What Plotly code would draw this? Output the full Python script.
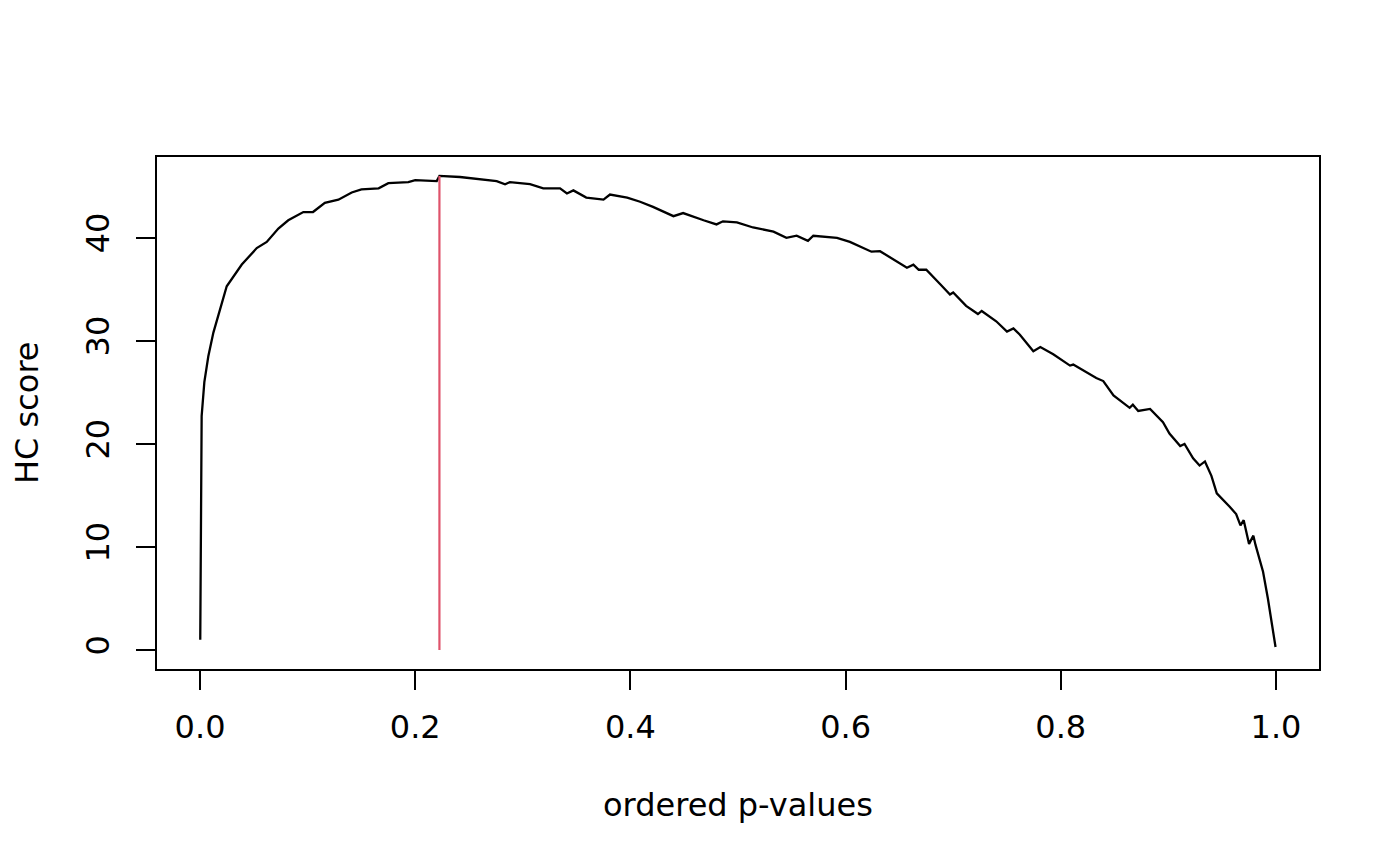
import plotly.graph_objects as go

# ordered p-values (x) and HC score (y)
p_values = [0.0002, 0.0005, 0.0008, 0.0015, 0.004, 0.0077, 0.0124, 0.017, 0.0186, 0.0217,
            0.0248, 0.0388, 0.0527, 0.062, 0.0728, 0.082, 0.096, 0.105, 0.116, 0.1286,
            0.141, 0.150, 0.166, 0.175, 0.1936, 0.2, 0.22,
            0.2225, 0.2416, 0.2757, 0.2835, 0.288, 0.3067, 0.319, 0.3346, 0.341, 0.347,
            0.359, 0.375, 0.381, 0.397, 0.409, 0.421, 0.44, 0.449, 0.468, 0.48,
            0.486, 0.499, 0.514, 0.533, 0.545, 0.5545, 0.565, 0.570, 0.592, 0.604,
            0.624, 0.632, 0.657, 0.663, 0.668, 0.675, 0.688, 0.697, 0.700, 0.712,
            0.723, 0.7265, 0.740, 0.750, 0.756, 0.762, 0.7745, 0.781, 0.793, 0.8086,
            0.8116, 0.833, 0.8395, 0.849, 0.864, 0.867, 0.872, 0.883, 0.895, 0.901,
            0.911, 0.915, 0.923, 0.929, 0.934, 0.940, 0.945, 0.950, 0.957, 0.963,
            0.967, 0.970, 0.975, 0.979, 0.981, 0.988, 0.9925, 0.9996]
hc_score = [1.0, 11.5, 17.9, 22.7, 26.0, 28.5, 30.8, 32.4, 33.0, 34.0,
            35.3, 37.4, 39.0, 39.6, 40.9, 41.7, 42.5, 42.5, 43.4, 43.7,
            44.4, 44.7, 44.8, 45.3, 45.4, 45.6, 45.5,
            46.0, 45.9, 45.5, 45.2, 45.4, 45.2, 44.8, 44.8, 44.3, 44.6,
            43.9, 43.7, 44.2, 43.9, 43.5, 43.0, 42.1, 42.4, 41.7, 41.3,
            41.6, 41.5, 41.0, 40.6, 40.0, 40.2, 39.7, 40.2, 40.0, 39.6,
            38.65, 38.7, 37.1, 37.4, 36.9, 36.9, 35.5, 34.5, 34.7, 33.4,
            32.6, 32.9, 31.9, 30.9, 31.2, 30.6, 29.0, 29.4, 28.7, 27.6,
            27.7, 26.4, 26.1, 24.7, 23.5, 23.8, 23.2, 23.4, 22.1, 21.0,
            19.8, 20.0, 18.6, 17.9, 18.3, 16.9, 15.2, 14.7, 13.9, 13.2,
            12.1, 12.6, 10.3, 11.1, 10.2, 7.6, 5.0, 0.3]

# HC threshold marker
threshold_x = [0.2225, 0.2225]
threshold_y = [0.0, 46.0]

x_ticks = [0.0, 0.2, 0.4, 0.6, 0.8, 1.0]
x_tick_labels = ["0.0", "0.2", "0.4", "0.6", "0.8", "1.0"]
y_ticks = [0, 10, 20, 30, 40]
y_tick_labels = ["0", "10", "20", "30", "40"]

FONT = "DejaVu Sans"
FS = 32

fig = go.Figure()
fig.add_trace(go.Scatter(x=p_values, y=hc_score, mode="lines",
                         line=dict(color="black", width=2.3), showlegend=False))
fig.add_trace(go.Scatter(x=threshold_x, y=threshold_y, mode="lines",
                         line=dict(color="#DF536B", width=2.2), showlegend=False))

axis_common = dict(showgrid=False, zeroline=False, showline=True, mirror=True,
                   linecolor="black", linewidth=2, ticks="outside", ticklen=19,
                   tickwidth=2, tickcolor="black", automargin=False,
                   tickfont=dict(family=FONT, size=FS, color="black"))

fig.update_xaxes(range=[-0.04, 1.04], tickvals=x_ticks, ticktext=x_tick_labels,
                 ticklabelstandoff=10, **axis_common)
fig.update_yaxes(range=[-1.84, 47.84], tickvals=y_ticks, ticktext=y_tick_labels,
                 tickangle=-90, ticklabelstandoff=14, **axis_common)

# the page body adds an 8px offset, so margins are reduced accordingly
fig.update_layout(
    width=1400, height=866,
    margin=dict(l=149, r=89, t=149, b=205, pad=0),
    plot_bgcolor="white", paper_bgcolor="white",
    font=dict(family=FONT, size=FS, color="black"),
    annotations=[
        dict(text="ordered p-values", xref="paper", yref="paper",
             x=0.5, y=-(805 - 669) / 512, xanchor="center", yanchor="middle",
             showarrow=False, font=dict(family=FONT, size=FS, color="black")),
        dict(text="HC score", xref="paper", yref="paper",
             x=-(157 - 27) / 1162, y=0.5, xanchor="center", yanchor="middle",
             textangle=-90, showarrow=False, borderpad=0,
             font=dict(family=FONT, size=FS, color="black")),
    ],
)

fig.write_html("out.html")
